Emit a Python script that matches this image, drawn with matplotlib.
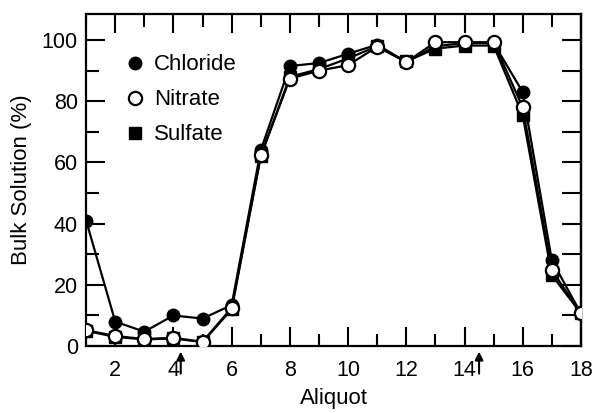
import matplotlib.pyplot as plt
from matplotlib.ticker import MultipleLocator

plt.rcParams["font.family"] = ["Liberation Sans", "DejaVu Sans"]

aliquot = list(range(1, 19))
chloride = [41, 8, 4.7, 10, 9, 13.4, 64, 91.5, 92.5, 95.5, 98.5, 92.8, 98, 99, 99, 83, 28, 10.7]
nitrate = [5.2, 3.3, 2.3, 2.7, 1.4, 12.5, 62.3, 87.4, 90, 91.8, 97.8, 92.8, 99.3, 99.3, 99.3, 78, 24.8, 10.7]
sulfate = [5, 3, 2.2, 2.5, 1.3, 12, 62, 88, 90.5, 94, 98, 93, 97.2, 98.2, 98.2, 75.4, 23.2, 10.7]
arrow_positions = [4.25, 14.5]

fig = plt.figure(figsize=(5.94, 4.13), dpi=100)
ax = fig.add_axes([0.145, 0.162, 0.833, 0.804])

ax.plot(aliquot, sulfate, color="black", lw=1.6, marker="s", ms=8,
        mfc="black", mec="black", label="Sulfate", zorder=2)
ax.plot(aliquot, chloride, color="black", lw=1.6, marker="o", ms=9,
        mfc="black", mec="black", label="Chloride", zorder=3)
ax.plot(aliquot, nitrate, color="black", lw=1.6, marker="o", ms=9.5,
        mfc="white", mec="black", mew=1.6, label="Nitrate", zorder=4)

ax.set_xlim(1, 18)
ax.set_ylim(0, 108.5)

ax.xaxis.set_major_locator(MultipleLocator(2))
ax.xaxis.set_minor_locator(MultipleLocator(1))
ax.yaxis.set_major_locator(MultipleLocator(20))
ax.yaxis.set_minor_locator(MultipleLocator(10))

ax.tick_params(which="both", direction="in", top=True, right=False,
               width=1.5, labelsize=15.5)
ax.tick_params(which="major", length=14)
ax.tick_params(which="minor", length=9)
ax.tick_params(axis="x", which="major", pad=10)
ax.tick_params(axis="y", which="major", pad=6)
for spine in ax.spines.values():
    spine.set_linewidth(1.6)

# right side: every 10 units, all the same length, no labels
right_axis = ax.secondary_yaxis("right")
right_axis.yaxis.set_major_locator(MultipleLocator(10))
right_axis.tick_params(direction="in", length=14, width=1.5, labelright=False)
right_axis.spines["right"].set_linewidth(1.6)

ax.set_xlabel("Aliquot", fontsize=16, labelpad=5)
ax.set_ylabel("Bulk Solution (%)", fontsize=16, labelpad=7)

for xpos in arrow_positions:
    ax.annotate("", xy=(xpos, -1.8), xytext=(xpos, -9),
                xycoords="data", textcoords="data",
                arrowprops=dict(arrowstyle="-|>", color="black", lw=1.5,
                                mutation_scale=12, shrinkA=0, shrinkB=0),
                annotation_clip=False)

handles, labels = ax.get_legend_handles_labels()
order = [1, 2, 0]
ax.legend([handles[i] for i in order], [labels[i] for i in order],
          loc="upper left", bbox_to_anchor=(0.065, 0.905), frameon=False,
          fontsize=16, handlelength=0.7, handletextpad=0.5,
          labelspacing=0.63, borderaxespad=0)
leg = ax.get_legend()
for line in leg.get_lines():
    line.set_linestyle("none")

fig.savefig("out.png", dpi=100)
